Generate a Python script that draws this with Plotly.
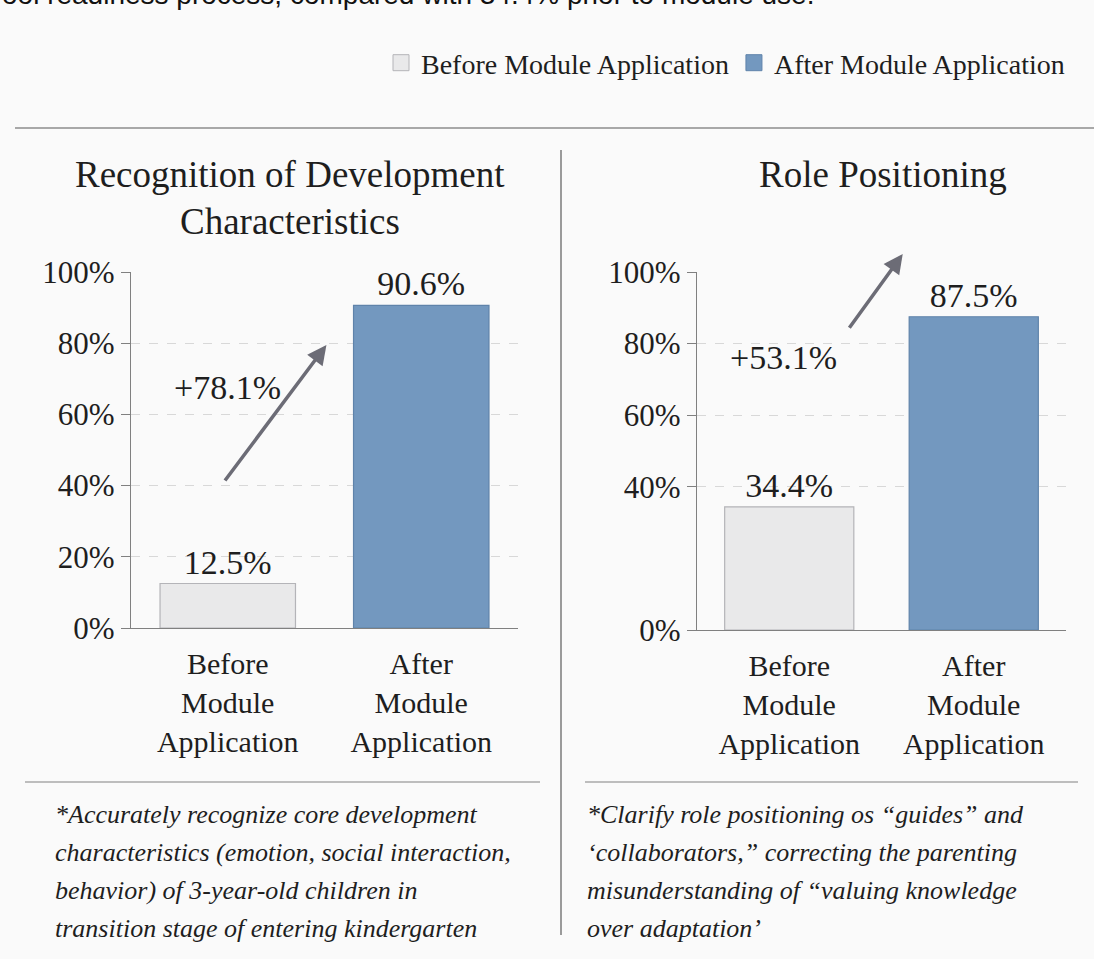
import plotly.graph_objects as go

# ---------------- data ----------------
categories = ["Before<br>Module<br>Application", "After<br>Module<br>Application"]
series_names = ["Before Module Application", "After Module Application"]
recognition = [12.5, 90.6]
role = [34.4, 87.5]
left_ticks = [0, 20, 40, 60, 80, 100]
right_ticks = [0, 40, 60, 80, 100]
left_title = ["Recognition of Development", "Characteristics"]
right_title = ["Role Positioning"]
left_note = [
    "*Accurately recognize core development",
    "characteristics (emotion, social interaction,",
    "behavior) of 3-year-old children in",
    "transition stage of entering kindergarten",
]
right_note = [
    "*Clarify role positioning os \u201cguides\u201d and",
    "\u2018collaborators,\u201d correcting the parenting",
    "misunderstanding of \u201cvaluing knowledge",
    "over adaptation\u2019",
]
top_fragment = "ool readiness process, compared with 34.4% prior to module use."

# ---------------- style ----------------
W, H = 1094, 959
SERIF = "Liberation Serif, Times New Roman, serif"
BG = "#fafafa"
FILL = ["#e9e9ea", "#7398bf"]
EDGE = ["#b4b4b8", "#5f83aa"]
TXT = "#1e1e1e"
ARROW = "#6c6c76"


def px(x):
    return x / W


def py(y):
    return 1 - y / H


fig = go.Figure()

for panel, (vals, xa, ya) in enumerate([(recognition, "x", "y"), (role, "x2", "y2")]):
    for i, name in enumerate(series_names):
        fig.add_trace(go.Bar(
            x=[categories[i]], y=[vals[i]], name=name,
            xaxis=xa, yaxis=ya, width=0.7,
            marker=dict(color=FILL[i], line=dict(color=EDGE[i], width=1.2)),
            texttemplate="%{y:.1f}%", textposition="outside",
            textfont=dict(family=SERIF, size=34, color=TXT),
            cliponaxis=False, legendgroup=name, showlegend=False,
        ))

# legend proxies (larger square swatches)
for i, name in enumerate(series_names):
    fig.add_trace(go.Scatter(
        x=[None], y=[None], mode="markers", name=name, legendgroup=name,
        marker=dict(symbol="square", size=16, color=FILL[i], line=dict(color=EDGE[i], width=1)),
        xaxis="x", yaxis="y", showlegend=True, hoverinfo="skip",
    ))

xcommon = dict(showline=True, linecolor="#808080", linewidth=1.3, ticks="",
               range=[-0.5, 1.5], automargin=False, fixedrange=True,
               tickfont=dict(family=SERIF, size=30, color=TXT), ticklabelstandoff=9)
ycommon = dict(showline=True, linecolor="#808080", linewidth=1.3, range=[0, 100],
               ticks="outside", ticklen=9, tickcolor="#808080", showgrid=True,
               gridcolor="#d8d8d8", griddash="dash", zeroline=False, automargin=False,
               tickfont=dict(family=SERIF, size=31, color=TXT))
fig.update_layout(
    width=W, height=H, margin=dict(l=0, r=0, t=0, b=0, pad=0, autoexpand=False),
    paper_bgcolor=BG, plot_bgcolor="rgba(0,0,0,0)",
    barmode="overlay",
    font=dict(family=SERIF, color=TXT),
    xaxis=dict(domain=[px(131), px(518)], anchor="y", **xcommon),
    yaxis=dict(domain=[py(628), py(272)], anchor="x", tickvals=left_ticks,
               ticktext=[f"{t}%" for t in left_ticks], **ycommon),
    xaxis2=dict(domain=[px(697), px(1066)], anchor="y2", **xcommon),
    yaxis2=dict(domain=[py(630), py(272)], anchor="x2", tickvals=right_ticks,
                ticktext=[f"{t}%" for t in right_ticks], **ycommon),
    legend=dict(orientation="h", x=px(1070), xanchor="right", y=py(63), yanchor="middle",
                font=dict(family=SERIF, size=28, color=TXT), bgcolor="rgba(0,0,0,0)",
                itemsizing="trace", traceorder="normal"),
)

ann = []
for k, line in enumerate(left_title):
    ann.append(dict(text=line, x=px(290), y=py(174 + 47 * k), xref="paper", yref="paper",
                    showarrow=False, font=dict(family=SERIF, size=37, color=TXT),
                    xanchor="center", yanchor="middle"))
for k, line in enumerate(right_title):
    ann.append(dict(text=line, x=px(883), y=py(174 + 47 * k), xref="paper", yref="paper",
                    showarrow=False, font=dict(family=SERIF, size=37, color=TXT),
                    xanchor="center", yanchor="middle"))
for k, line in enumerate(left_note):
    ann.append(dict(text=f"<i>{line}</i>", x=px(53), y=py(814 + 38 * k), xref="paper",
                    yref="paper", showarrow=False, xanchor="left", yanchor="middle",
                    font=dict(family=SERIF, size=26, color=TXT)))
for k, line in enumerate(right_note):
    ann.append(dict(text=f"<i>{line}</i>", x=px(585), y=py(814 + 38 * k), xref="paper",
                    yref="paper", showarrow=False, xanchor="left", yanchor="middle",
                    font=dict(family=SERIF, size=26, color=TXT)))

# change arrows + labels
ann.append(dict(x=0.51, y=79.5, ax=-0.02, ay=41, xref="x", yref="y", axref="x", ayref="y",
                showarrow=True, arrowhead=2, arrowsize=1.1, arrowwidth=3.5, arrowcolor=ARROW,
                text=""))
ann.append(dict(x=0.0, y=67.5, xref="x", yref="y", showarrow=False,
                text=f"+{recognition[1] - recognition[0]:.1f}%",
                font=dict(family=SERIF, size=34, color=TXT)))
ann.append(dict(x=0.615, y=105.0, ax=0.32, ay=84.0, xref="x2", yref="y2", axref="x2", ayref="y2",
                showarrow=True, arrowhead=2, arrowsize=1.1, arrowwidth=3.5, arrowcolor=ARROW,
                text=""))
ann.append(dict(x=-0.03, y=76, xref="x2", yref="y2", showarrow=False,
                text=f"+{role[1] - role[0]:.1f}%",
                font=dict(family=SERIF, size=34, color=TXT)))
# page text cropped at the very top edge (only its lower part is visible, as in the source)
ann.append(dict(text=top_fragment, x=0, y=1, xref="paper", yref="paper", xanchor="left",
                yanchor="bottom", yshift=-12, showarrow=False,
                font=dict(family="Liberation Sans, Arial, sans-serif", size=28, color="#111")))
fig.update_layout(annotations=ann)

shapes = [
    dict(type="line", xref="paper", yref="paper", x0=px(15), x1=1, y0=py(128), y1=py(128),
         line=dict(color="#a8a8a8", width=2)),
    dict(type="line", xref="paper", yref="paper", x0=px(561), x1=px(561), y0=py(150), y1=py(935),
         line=dict(color="#7a7a7a", width=1.5)),
    dict(type="line", xref="paper", yref="paper", x0=px(25), x1=px(540), y0=py(782), y1=py(782),
         line=dict(color="#bdbdbd", width=2)),
    dict(type="line", xref="paper", yref="paper", x0=px(585), x1=px(1078), y0=py(782), y1=py(782),
         line=dict(color="#bdbdbd", width=2)),
]
fig.update_layout(shapes=shapes)

fig.write_html(
    "out.html",
    config={"displayModeBar": False},
    post_script="document.body.style.margin='0';document.body.style.overflow='hidden';"
                "document.documentElement.style.overflow='hidden';",
)
